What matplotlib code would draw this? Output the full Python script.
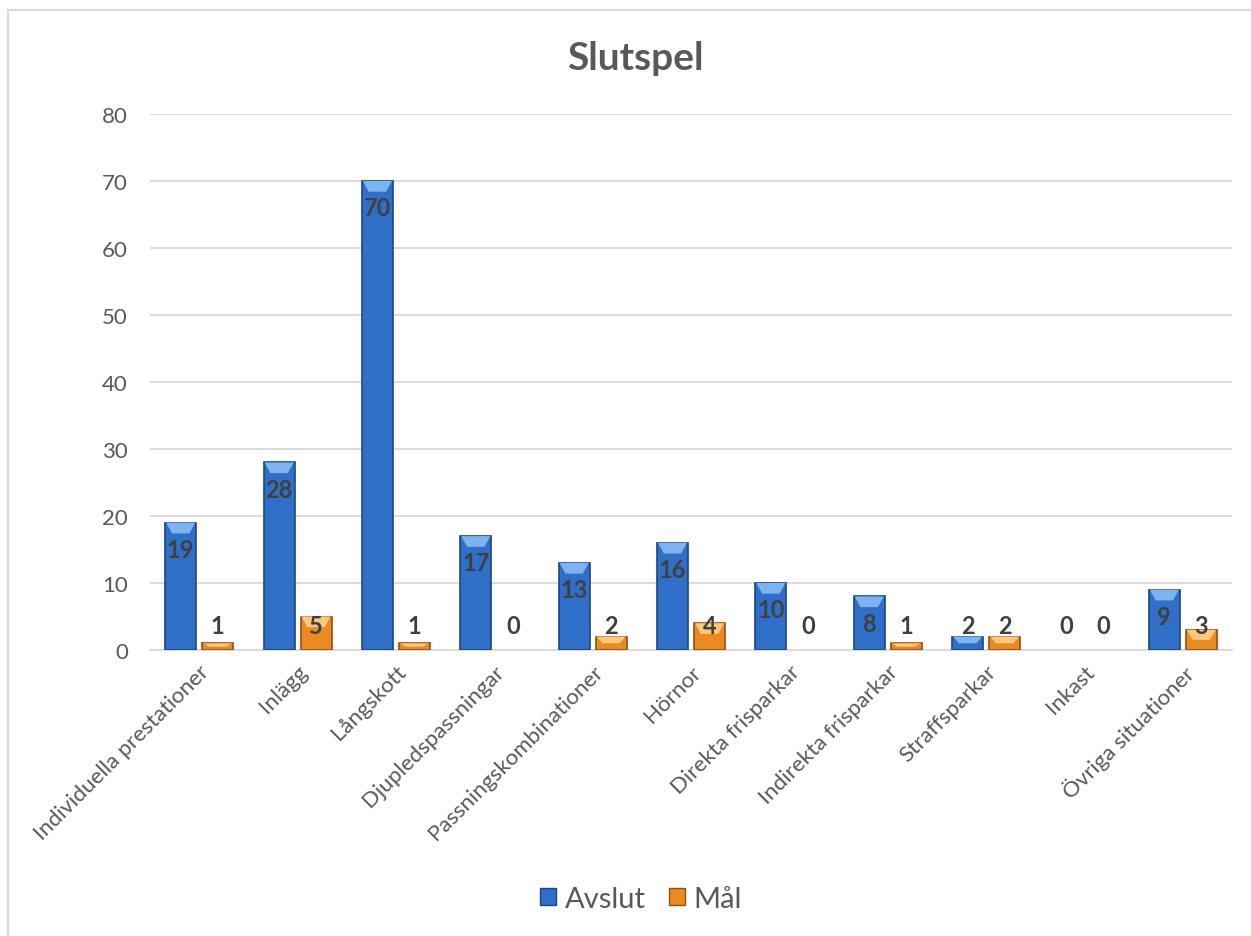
import matplotlib
matplotlib.use("Agg")
import matplotlib.pyplot as plt
import matplotlib.patches as mpatches
import numpy as np

categories = ["Individuella prestationer", "Inlägg", "Långskott", "Djupledspassningar",
              "Passningskombinationer", "Hörnor", "Direkta frisparkar", "Indirekta frisparkar",
              "Straffsparkar", "Inkast", "Övriga situationer"]
avslut = [19, 28, 70, 17, 13, 16, 10, 8, 2, 0, 9]
mal = [1, 5, 1, 0, 2, 4, 0, 1, 2, 0, 3]
yticks = [0, 10, 20, 30, 40, 50, 60, 70, 80]

plt.rcParams['font.family'] = ['Lato', 'DejaVu Sans']

W, H = 1251, 937
fig = plt.figure(figsize=(W / 100, H / 100), dpi=100)
ax = fig.add_axes([150 / W, 1 - 651 / H, (1232 - 150) / W, (651 - 115) / H])

# outer chart border
fig.patches.append(mpatches.Rectangle((8 / W, -0.01), 1.1, 1 - 11 / H + 0.01,
                                      transform=fig.transFigure, fill=False,
                                      edgecolor="#D9D9D9", linewidth=1.5))

x = np.arange(len(categories))
bw = 0.315
off = 0.188
blue = "#2F6FC8"
blue_edge = "#1B4680"
orange = "#EC8A22"
orange_edge = "#94500F"

def edges(vals, c):
    return [c if v > 0 else "none" for v in vals]

b1 = ax.bar(x - off, avslut, bw, color=blue, edgecolor=edges(avslut, blue_edge), linewidth=1.2, zorder=3)
b2 = ax.bar(x + off, mal, bw, color=orange, edgecolor=edges(mal, orange_edge), linewidth=1.2, zorder=3)

# bevel highlight on top of each bar
bev = 1.6
for bars, light in ((b1, "#7DB3F0"), (b2, "#FCC77E")):
    for r in bars:
        h = r.get_height()
        if h <= 0:
            continue
        x0 = r.get_x()
        wd = r.get_width()
        bh = min(bev, h * 0.5)
        tri = mpatches.Polygon([[x0 + wd * 0.03, h], [x0 + wd * 0.97, h],
                                [x0 + wd * 0.78, h - bh], [x0 + wd * 0.22, h - bh]],
                               closed=True, facecolor=light, edgecolor="none", zorder=4)
        ax.add_patch(tri)

def label(bars, vals):
    for r, v in zip(bars, vals):
        cx = r.get_x() + r.get_width() / 2
        ax.text(cx, max(v - 4.0, 3.7), str(v), ha="center", va="center", fontsize=17,
                fontweight="bold", color="#404040", zorder=5)

label(b1, avslut)
label(b2, mal)

ax.set_xlim(-0.5, len(categories) - 0.5)
ax.set_ylim(0, 80)
ax.set_yticks(yticks)
ax.set_yticklabels([str(t) for t in yticks], fontsize=16, color="#595959")
ax.yaxis.grid(True, color="#D9D9D9", linewidth=1.3, zorder=0)
ax.set_axisbelow(True)
for s in ["top", "right", "left"]:
    ax.spines[s].set_visible(False)
ax.spines["bottom"].set_color("#D9D9D9")
ax.spines["bottom"].set_linewidth(1.3)
ax.tick_params(axis="y", length=0, pad=16)
ax.tick_params(axis="x", length=0, pad=8)
ax.set_xticks(x)
ax.set_xticklabels(categories, rotation=45, ha="right", rotation_mode="anchor",
                   fontsize=16, color="#595959")

fig.text(635 / W, 1 - 58 / H, "Slutspel", ha="center", va="center", fontsize=28,
         fontweight="bold", color="#595959")

h1 = mpatches.Patch(facecolor=blue, edgecolor=blue_edge, label="Avslut")
h2 = mpatches.Patch(facecolor=orange, edgecolor=orange_edge, label="Mål")
fig.legend(handles=[h1, h2], loc="center", bbox_to_anchor=(641 / W, 1 - 900 / H), ncol=2,
           frameon=False, fontsize=21, handlelength=0.55, handleheight=0.55,
           handletextpad=0.3, columnspacing=0.8, labelcolor="#595959")

fig.savefig("out.png", dpi=100, facecolor="white")
